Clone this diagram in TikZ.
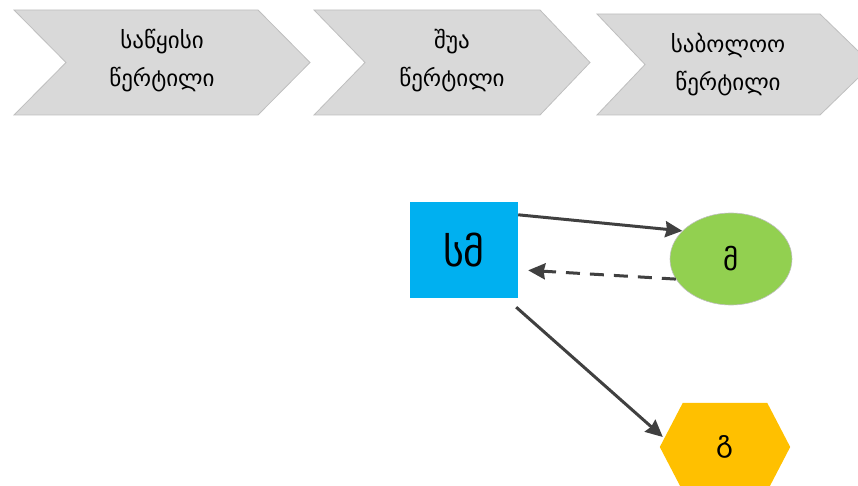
\documentclass[tikz,border=0pt]{standalone}
\usepackage{fontspec}
\setmainfont{DejaVu Sans}
\usetikzlibrary{shapes.geometric,arrows.meta,calc}
\definecolor{chevfill}{HTML}{D9D9D9}
\definecolor{chevline}{HTML}{BFBFBF}
\definecolor{smblue}{HTML}{00B0F0}
\definecolor{mgreen}{HTML}{92D050}
\definecolor{gorange}{HTML}{FFC000}
\definecolor{arrowgray}{HTML}{404040}
\tikzset{
  chev/.style={fill=chevfill, draw=chevline, line width=0.8pt},
  chevtext/.style={align=center, font=\fontsize{23}{38}\selectfont, text=black},
  conn/.style={draw=arrowgray, line width=3pt, -{Stealth[length=17pt,width=16pt,inset=1.5pt]}},
  dconn/.style={conn, dash pattern=on 14pt off 10pt},
}
\begin{document}
\begin{tikzpicture}[x=1pt,y=-1pt]
\useasboundingbox (0,0) rectangle (858,486);
\clip (0,0) rectangle (858,486);
% chevrons
\path[chev] (14,10) -- (258,10) -- (310,62.5) -- (258,115) -- (14,115) -- (66,62.5) -- cycle;
\path[chev] (314,10) -- (540,10) -- (590,62.5) -- (540,115) -- (314,115) -- (365,62.5) -- cycle;
\path[chev] (597,14) -- (820,14) -- (872,64.5) -- (820,115) -- (597,115) -- (645,64.5) -- cycle;
\node[chevtext] (c1) at (162,61) {საწყისი\\წერტილი};
\node[chevtext] (c2) at (452,61) {შუა\\წერტილი};
\node[chevtext] (c3) at (728,65) {საბოლოო\\წერტილი};
% nodes
\node[fill=smblue, minimum width=108pt, minimum height=96pt, inner sep=0pt,
      font=\fontsize{40}{44}\selectfont] (sm) at (464,250) {სმ};
\node[ellipse, fill=mgreen, draw=chevline, line width=0.6pt, minimum width=122pt, minimum height=92pt,
      inner sep=0pt, font=\fontsize{29}{32}\selectfont] (m) at (731,259) {მ};
\node[minimum width=130pt, minimum height=88pt, inner sep=0pt] (g) at (725,447) {};
\fill[gorange] (g.west) -- ($(g.north west)+(23,0)$) -- ($(g.north east)+(-23,0)$) -- (g.east)
   -- ($(g.south east)+(-23,0)$) -- ($(g.south west)+(23,0)$) -- cycle;
\node[font=\fontsize{29}{32}\selectfont] (gl) at (g.center) {გ};
% connectors
\draw[conn] (sm.33) -- (m.150);
\draw[dconn, shorten >=10pt] (m.200) -- (sm.-20);
\draw[conn] ($(sm.south east)+(-2,9)$) -- ($(g.west)+(3,-10)$);
\end{tikzpicture}
\end{document}
